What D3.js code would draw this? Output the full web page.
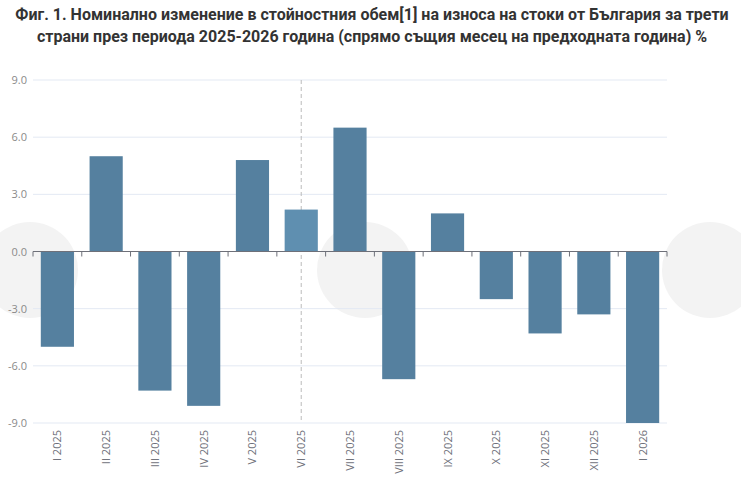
<!DOCTYPE html>
<html><head><meta charset="utf-8">
<script src="https://cdn.jsdelivr.net/npm/d3@7"></script>
<style>body{margin:0;background:#fff;font-family:"Open Sans",sans-serif}</style>
</head><body>
<svg id="chart" width="741" height="486"></svg>
<script>
const categories = ["I 2025","II 2025","III 2025","IV 2025","V 2025","VI 2025","VII 2025","VIII 2025","IX 2025","X 2025","XI 2025","XII 2025","I 2026"];
const values = [-5.0, 5.0, -7.3, -8.1, 4.8, 2.2, 6.5, -6.7, 2.0, -2.5, -4.3, -3.3, -9.0];
const yTicks = [-9, -6, -3, 0, 3, 6, 9];
const highlighted = "VI 2025";

const svg = d3.select("#chart");
const x = d3.scaleBand().domain(categories).range([33, 667]).paddingInner(0.32).paddingOuter(0.16);
const y = d3.scaleLinear().domain([-9, 9]).range([423, 80]);

// watermarks
[[30, 270], [365, 270], [710, 270]].forEach(([cx, cy]) => {
    svg.append("circle").attr("cx", cx).attr("cy", cy).attr("r", 48)
        .attr("fill", "#333").attr("opacity", 0.06);
});

svg.append("text").attr("x", 372).attr("y", 20).attr("text-anchor", "middle")
    .attr("font-size", 16).attr("font-weight", "bold").attr("fill", "#333")
    .attr("font-family", "Roboto, sans-serif")
    .text("Фиг. 1. Номинално изменение в стойностния обем[1]  на износа на стоки от България за трети");
svg.append("text").attr("x", 372).attr("y", 42).attr("text-anchor", "middle")
    .attr("font-size", 16).attr("font-weight", "bold").attr("fill", "#333")
    .attr("font-family", "Roboto, sans-serif")
    .text("страни през периода 2025-2026 година (спрямо същия месец на предходната година) %");

svg.append("g").selectAll("line").data(yTicks.filter(d => d !== 0)).join("line")
    .attr("x1", 33).attr("x2", 667).attr("y1", d => y(d)).attr("y2", d => y(d))
    .attr("stroke", "#e3e9f3");

svg.append("g").selectAll("text").data(yTicks).join("text")
    .attr("x", 27).attr("y", d => y(d) + 4).attr("text-anchor", "end")
    .attr("font-size", 11).attr("fill", "#8a8a8a").text(d => d.toFixed(1));

svg.append("line").attr("x1", x(highlighted) + x.bandwidth() / 2).attr("x2", x(highlighted) + x.bandwidth() / 2)
    .attr("y1", 80).attr("y2", 423).attr("stroke", "#bbb").attr("stroke-dasharray", "4,3");

svg.append("g").selectAll("rect").data(categories).join("rect")
    .attr("x", d => x(d)).attr("width", x.bandwidth())
    .attr("y", (d, i) => y(Math.max(0, values[i])))
    .attr("height", (d, i) => Math.abs(y(values[i]) - y(0)))
    .attr("fill", d => d === highlighted ? "#5f8fb0" : "#55809f");

svg.append("line").attr("x1", 33).attr("x2", 667).attr("y1", y(0)).attr("y2", y(0)).attr("stroke", "#6e7079");
const step = x.step();
svg.append("g").selectAll("line").data(d3.range(14)).join("line")
    .attr("x1", i => 33 + i * step).attr("x2", i => 33 + i * step)
    .attr("y1", y(0)).attr("y2", y(0) + 5).attr("stroke", "#6e7079");

svg.append("g").selectAll("text").data(categories).join("text")
    .attr("transform", d => `translate(${x(d) + x.bandwidth() / 2 + 4},${430}) rotate(-90)`)
    .attr("text-anchor", "end").attr("font-size", 11).attr("fill", "#6e7079").text(d => d);
</script>
</body></html>
